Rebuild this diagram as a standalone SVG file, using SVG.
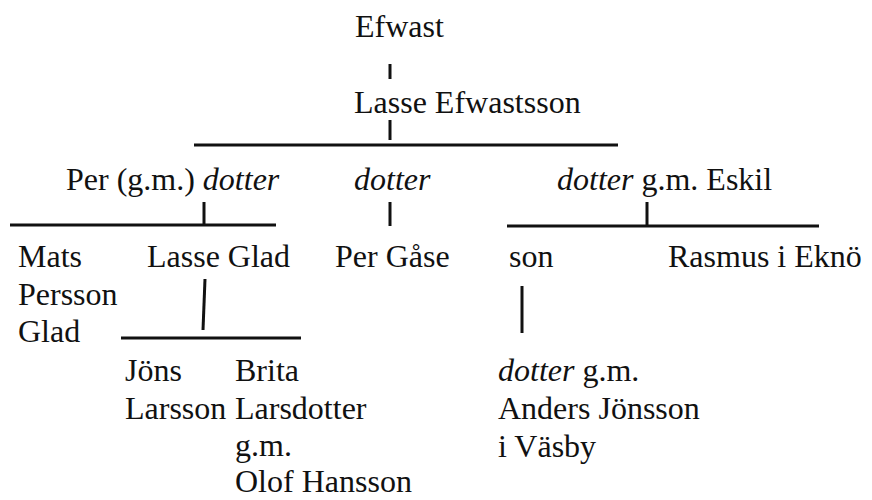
<svg xmlns="http://www.w3.org/2000/svg" width="872" height="500" viewBox="0 0 872 500">
  <style>
    text { font-family: "Liberation Serif", "Times New Roman", serif; font-size: 32px; fill: #111; }
    .it { font-style: italic; }
    .ln { stroke: #111; stroke-width: 3; fill: none; }
  </style>
  <rect width="872" height="500" fill="#fff"/>

  <g id="connectors">
    <line class="ln" x1="390" y1="64" x2="390" y2="79"/>
    <line class="ln" x1="390" y1="120" x2="390" y2="140"/>
    <line class="ln" x1="194" y1="145" x2="618" y2="145"/>
    <line class="ln" x1="204" y1="202" x2="204" y2="225"/>
    <line class="ln" x1="10" y1="225" x2="276" y2="225"/>
    <line class="ln" x1="390" y1="202" x2="390" y2="226"/>
    <line class="ln" x1="647" y1="202" x2="647" y2="226"/>
    <line class="ln" x1="507" y1="226" x2="819" y2="226"/>
    <line class="ln" x1="205" y1="279" x2="203" y2="330"/>
    <line class="ln" x1="121" y1="338" x2="301" y2="338"/>
    <line class="ln" x1="522" y1="286" x2="522" y2="333"/>
  </g>

  <g id="efwast"><text x="355" y="37">Efwast</text></g>
  <g id="lasse-efwastsson"><text x="354" y="113">Lasse Efwastsson</text></g>
  <g id="per-dotter"><text x="66" y="190">Per (g.m.) <tspan class="it">dotter</tspan></text></g>
  <g id="dotter-mid"><text class="it" x="354" y="190">dotter</text></g>
  <g id="dotter-eskil"><text x="557" y="190"><tspan class="it">dotter</tspan> g.m. Eskil</text></g>

  <g id="mats">
    <text x="18" y="267">Mats</text>
    <text x="18" y="305">Persson</text>
    <text x="18" y="342">Glad</text>
  </g>
  <g id="lasse-glad"><text x="147" y="267">Lasse Glad</text></g>
  <g id="per-gase"><text x="335" y="267">Per Gåse</text></g>
  <g id="son"><text x="509" y="267">son</text></g>
  <g id="rasmus"><text x="668" y="267">Rasmus i Eknö</text></g>

  <g id="jons">
    <text x="125" y="381">Jöns</text>
    <text x="125" y="419">Larsson</text>
  </g>
  <g id="brita">
    <text x="235" y="381">Brita</text>
    <text x="235" y="419">Larsdotter</text>
    <text x="235" y="456">g.m.</text>
    <text x="235" y="492">Olof Hansson</text>
  </g>
  <g id="dotter-anders">
    <text x="498" y="381"><tspan class="it">dotter</tspan> g.m.</text>
    <text x="498" y="419">Anders Jönsson</text>
    <text x="498" y="457">i Väsby</text>
  </g>
</svg>
